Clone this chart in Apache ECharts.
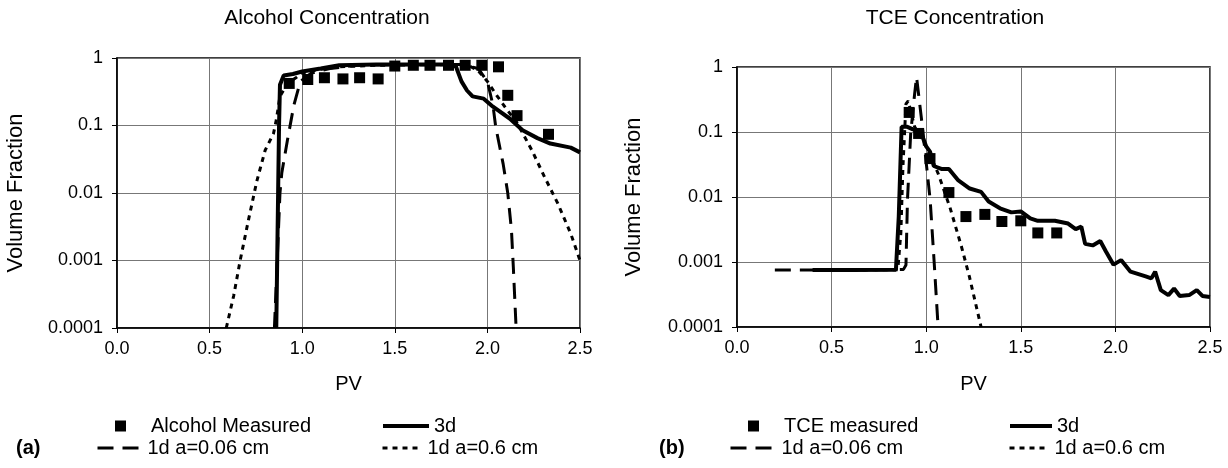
<!DOCTYPE html>
<html>
<head>
<meta charset="utf-8">
<script src="https://cdn.jsdelivr.net/npm/echarts@6/dist/echarts.min.js"></script>
<style>
  html, body { margin: 0; padding: 0; background: #fff; }
  #chart { width: 1228px; height: 468px; }
</style>
</head>
<body>
<div id="chart"></div>
<script>
// x ticks for both panels
var pvTicks = [0.0, 0.5, 1.0, 1.5, 2.0, 2.5];

// (a) alcohol concentration
var alcMeasPV  = [0.93, 1.03, 1.12, 1.22, 1.31, 1.41, 1.50, 1.60, 1.69, 1.79, 1.88, 1.97, 2.06, 2.11, 2.16, 2.33];
var alcMeasVal = [0.42, 0.48, 0.51, 0.49, 0.51, 0.49, 0.76, 0.78, 0.78, 0.78, 0.78, 0.78, 0.74, 0.28, 0.14, 0.074];

var alc3dPV  = [0.86, 0.865, 0.87, 0.875, 0.88, 0.90, 0.95, 1.0, 1.1, 1.2, 1.4, 1.6, 1.8, 1.83, 1.86, 1.89, 1.92, 1.98, 2.03, 2.12, 2.19, 2.27, 2.34, 2.45, 2.5];
var alc3dVal = [0.0001, 0.001, 0.01, 0.1, 0.4, 0.55, 0.58, 0.63, 0.7, 0.78, 0.8, 0.8, 0.8, 0.75, 0.45, 0.33, 0.27, 0.25, 0.19, 0.127, 0.085, 0.065, 0.054, 0.047, 0.04];

var alcA006PV  = [0.85, 0.865, 0.88, 0.89, 0.92, 0.955, 0.99, 1.05, 1.15, 1.3, 1.6, 1.85, 1.95, 2.0, 2.03, 2.045, 2.085, 2.11, 2.13, 2.14, 2.155];
var alcA006Val = [0.0001, 0.001, 0.01, 0.02, 0.06, 0.2, 0.45, 0.6, 0.7, 0.78, 0.8, 0.8, 0.7, 0.45, 0.2, 0.095, 0.027, 0.01, 0.0028, 0.0008, 0.0001];

var alcA06PV  = [0.59, 0.63, 0.665, 0.71, 0.755, 0.80, 0.845, 0.86, 0.88, 0.92, 0.97, 1.0, 1.1, 1.2, 1.4, 1.8, 1.9, 1.95, 2.0, 2.05, 2.1, 2.16, 2.24, 2.31, 2.38, 2.45, 2.5];
var alcA06Val = [0.0001, 0.0003, 0.001, 0.004, 0.015, 0.043, 0.076, 0.12, 0.27, 0.42, 0.52, 0.6, 0.68, 0.74, 0.78, 0.8, 0.77, 0.65, 0.45, 0.28, 0.18, 0.11, 0.043, 0.017, 0.007, 0.0025, 0.001];

// (b) TCE concentration
var tceMeasPV  = [0.91, 0.96, 1.02, 1.12, 1.21, 1.31, 1.40, 1.50, 1.59, 1.69];
var tceMeasVal = [0.2, 0.095, 0.039, 0.0117, 0.005, 0.0054, 0.0042, 0.0043, 0.0028, 0.0028];

var tce3dPV  = [0.40, 0.60, 0.84, 0.855, 0.87, 0.90, 0.93, 0.96, 0.98, 1.0, 1.02, 1.04, 1.08, 1.12, 1.17, 1.23, 1.29, 1.33, 1.39, 1.45, 1.50, 1.55, 1.59, 1.68, 1.75, 1.79, 1.82, 1.84, 1.88, 1.92, 1.95, 1.99, 2.03, 2.08, 2.16, 2.19, 2.21, 2.24, 2.28, 2.31, 2.34, 2.39, 2.43, 2.46, 2.5];
var tce3dVal = [0.00075, 0.00075, 0.00076, 0.005, 0.12, 0.12, 0.11, 0.1, 0.085, 0.06, 0.05, 0.03, 0.027, 0.027, 0.018, 0.0135, 0.012, 0.0085, 0.0067, 0.0058, 0.006, 0.0047, 0.0043, 0.0043, 0.0039, 0.0032, 0.0035, 0.0019, 0.0018, 0.0021, 0.00145, 0.00091, 0.00107, 0.00071, 0.0006, 0.00056, 0.00071, 0.00037, 0.00031, 0.00039, 0.0003, 0.00031, 0.00037, 0.0003, 0.00029];

var tceA006PV  = [0.2, 0.5, 0.88, 0.893, 0.901, 0.918, 0.939, 0.949, 0.98, 1.021, 1.042, 1.063];
var tceA006Val = [0.00075, 0.00075, 0.00077, 0.0009, 0.009, 0.095, 0.39, 0.7, 0.12, 0.009, 0.001, 0.0001];

var tceA06PV  = [0.4, 0.85, 0.866, 0.877, 0.893, 0.905, 0.939, 1.0, 1.063, 1.125, 1.187, 1.228, 1.29];
var tceA06Val = [0.00075, 0.00076, 0.0028, 0.029, 0.27, 0.3, 0.12, 0.06, 0.023, 0.007, 0.0017, 0.0006, 0.0001];

function pairs(xs, ys) {
    var out = [];
    for (var i = 0; i < xs.length; i++) out.push([xs[i], ys[i]]);
    return out;
}

var FONT = 'Liberation Sans, Arial, sans-serif';

function xAx(idx, gap) {
    return {
        type: 'value', gridIndex: idx, min: 0, max: 2.5, interval: 0.5,
        name: 'PV', nameLocation: 'middle', nameGap: gap,
        nameTextStyle: { fontFamily: FONT, fontSize: 20, color: '#000' },
        axisLine: { lineStyle: { color: '#000', width: 1.5 } },
        axisTick: { show: true, length: 5, lineStyle: { color: '#000' } },
        axisLabel: { fontFamily: FONT, fontSize: 18, color: '#000', margin: 12,
            formatter: function (v) { return v.toFixed(1); } },
        splitLine: { show: true, lineStyle: { color: '#777', width: 1 } }
    };
}

function yAx(idx, gap) {
    return {
        type: 'log', logBase: 10, gridIndex: idx, min: 0.0001, max: 1,
        name: 'Volume Fraction', nameLocation: 'middle', nameGap: gap,
        nameTextStyle: { fontFamily: FONT, fontSize: 22, color: '#000' },
        axisLine: { show: true, lineStyle: { color: '#000', width: 1.5 } },
        axisTick: { show: true, length: 5, lineStyle: { color: '#000' } },
        axisLabel: { fontFamily: FONT, fontSize: 18, color: '#000', margin: 14,
            formatter: function (v) { return String(+v.toPrecision(1)); } },
        splitLine: { show: true, lineStyle: { color: '#777', width: 1 } },
        minorTick: { show: false }
    };
}

function measured(name, idx, xs, ys) {
    return { name: name, type: 'scatter', xAxisIndex: idx, yAxisIndex: idx,
        symbol: 'rect', symbolSize: 11, itemStyle: { color: '#000', opacity: 1 },
        data: pairs(xs, ys), z: 5 };
}

function curve(name, idx, xs, ys, dash, width) {
    return { name: name, type: 'line', xAxisIndex: idx, yAxisIndex: idx,
        symbol: 'none', smooth: false, clip: true,
        lineStyle: { color: '#000', width: width, type: dash },
        itemStyle: { color: '#000' },
        data: pairs(xs, ys) };
}

function legendItem(name, left, top, w, pad, lw) {
    var isMeas = name.indexOf('easured') > 0;
    return { data: [name], left: left, top: top, padding: 0,
        itemWidth: w, itemHeight: isMeas ? 11 : 14,
        itemStyle: isMeas ? { color: '#000', opacity: 1 } : { opacity: 0 },
        lineStyle: lw ? { width: lw } : {},
        textStyle: { fontFamily: FONT, fontSize: 20, color: '#000', padding: [0, 0, 0, pad] },
        selectedMode: false };
}

var chart = echarts.init(document.getElementById('chart'));

chart.setOption({
    backgroundColor: '#fff',
    animation: false,
    grid: [
        { left: 117, top: 58, width: 463, height: 270, show: true, borderColor: '#000', borderWidth: 1.5, backgroundColor: 'transparent' },
        { left: 737, top: 67, width: 473, height: 260, show: true, borderColor: '#000', borderWidth: 1.5, backgroundColor: 'transparent' }
    ],
    xAxis: [xAx(0, 46), xAx(1, 47)],
    yAxis: [yAx(0, 90), yAx(1, 92)],
    legend: [
        legendItem('Alcohol Measured', 115, 416, 11, 20),
        legendItem('3d', 381, 416, 46, 0, 4),
        legendItem('1d a=0.06 cm', 96, 438, 45, 0, 3),
        legendItem('1d a=0.6 cm', 381, 438, 37, 3, 3),
        legendItem('TCE measured', 748, 416, 11, 20),
        legendItem('3d', 1008, 416, 42, 0, 4),
        legendItem('1d a=0.06 cm', 729, 438, 46, 0, 3),
        legendItem('1d a=0.6 cm', 1008, 438, 37, 3, 3)
    ],
    graphic: [
        { type: 'text', x: 327, y: 8, style: { text: 'Alcohol Concentration', font: '21px ' + FONT, fill: '#000', textAlign: 'center' } },
        { type: 'text', x: 955, y: 8, style: { text: 'TCE Concentration', font: '21px ' + FONT, fill: '#000', textAlign: 'center' } },
        { type: 'text', x: 16, y: 438, style: { text: '(a)', font: 'bold 20px ' + FONT, fill: '#000' } },
        { type: 'text', x: 659, y: 438, style: { text: '(b)', font: 'bold 20px ' + FONT, fill: '#000' } }
    ],
    series: [
        measured('Alcohol Measured', 0, alcMeasPV, alcMeasVal),
        curve('3d', 0, alc3dPV, alc3dVal, 'solid', 4),
        curve('1d a=0.06 cm', 0, alcA006PV, alcA006Val, [16, 9], 3),
        curve('1d a=0.6 cm', 0, alcA06PV, alcA06Val, [5, 5], 3),
        measured('TCE measured', 1, tceMeasPV, tceMeasVal),
        curve('3d', 1, tce3dPV, tce3dVal, 'solid', 4),
        curve('1d a=0.06 cm', 1, tceA006PV, tceA006Val, [16, 9], 3),
        curve('1d a=0.6 cm', 1, tceA06PV, tceA06Val, [5, 5], 3)
    ]
});
</script>
</body>
</html>
